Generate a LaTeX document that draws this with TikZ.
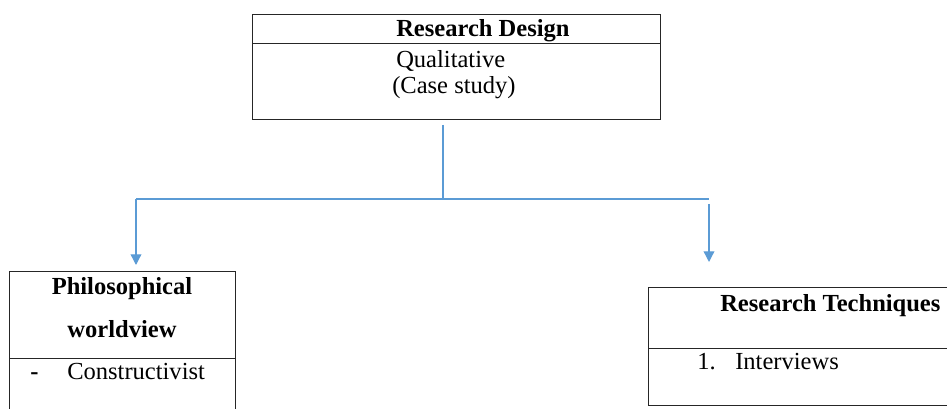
\documentclass[tikz,border=0pt]{standalone}
\usepackage{fontspec}
\setmainfont{Liberation Serif}
\usetikzlibrary{arrows.meta}
\definecolor{linkblue}{RGB}{91,155,213}

\begin{document}
\begin{tikzpicture}[x=0.75pt, y=-0.75pt,
  cell/.style={draw=black!85, line width=0.9pt, anchor=north west, inner sep=0pt},
  txt/.style={inner sep=0pt, anchor=base west, font=\fontsize{18.4}{22}\selectfont},
  head/.style={txt, font=\fontsize{18.4}{22}\selectfont\bfseries},
  link/.style={draw=linkblue, line width=1pt},
  arrow/.style={link, -{Triangle[width=8pt,length=8pt]}}]

  \clip (0,0) rectangle (947,409);

  % Research design
  \node[cell, minimum width=306pt, minimum height=21.75pt] (design) at (252,14) {};
  \node[cell, minimum width=306pt, minimum height=57pt] (designbody) at (252,43) {};
  \node[head] (designhead) at (396,37) {Research Design};
  \node[txt] (qual) at (396,68) {Qualitative};
  \node[txt] (casestudy) at (392,94) {(Case study)};

  % Philosophical worldview
  \node[cell, minimum width=169.5pt, minimum height=65.25pt] (philo) at (9,271) {};
  \node[cell, minimum width=169.5pt, minimum height=54pt] (philobody) at (9,358) {};
  \node[head, anchor=base] (philohead) at (122,295) {Philosophical};
  \node[head, anchor=base] (worldview) at (122,338) {worldview};
  \node[txt] (dash) at (30,380) {\textbf{-}};
  \node[txt] (constr) at (67,380) {Constructivist};

  % Research techniques
  \node[cell, minimum width=256.5pt, minimum height=45.75pt] (tech) at (648,287) {};
  \node[cell, minimum width=256.5pt, minimum height=42.75pt] (techbody) at (648,348) {};
  \node[head] (techhead) at (720,312) {Research Techniques};
  \node[txt] (num) at (697,370) {1.};
  \node[txt] (interviews) at (735,370) {Interviews};

  % connectors
  \coordinate (stem) at (443,125);
  \coordinate (split) at (443,199);
  \coordinate (lturn) at (136,199);
  \coordinate (rturn) at (709,199);
  \coordinate (rdrop) at (709,204);
  \draw[link] (stem) -- (split);
  \draw[link] (lturn) -- (rturn);
  \draw[arrow, shorten >=4.5pt] (lturn) -- (lturn |- philo.north);
  \draw[arrow, shorten >=18.75pt] (rdrop) -- (rdrop |- tech.north);
\end{tikzpicture}
\end{document}
